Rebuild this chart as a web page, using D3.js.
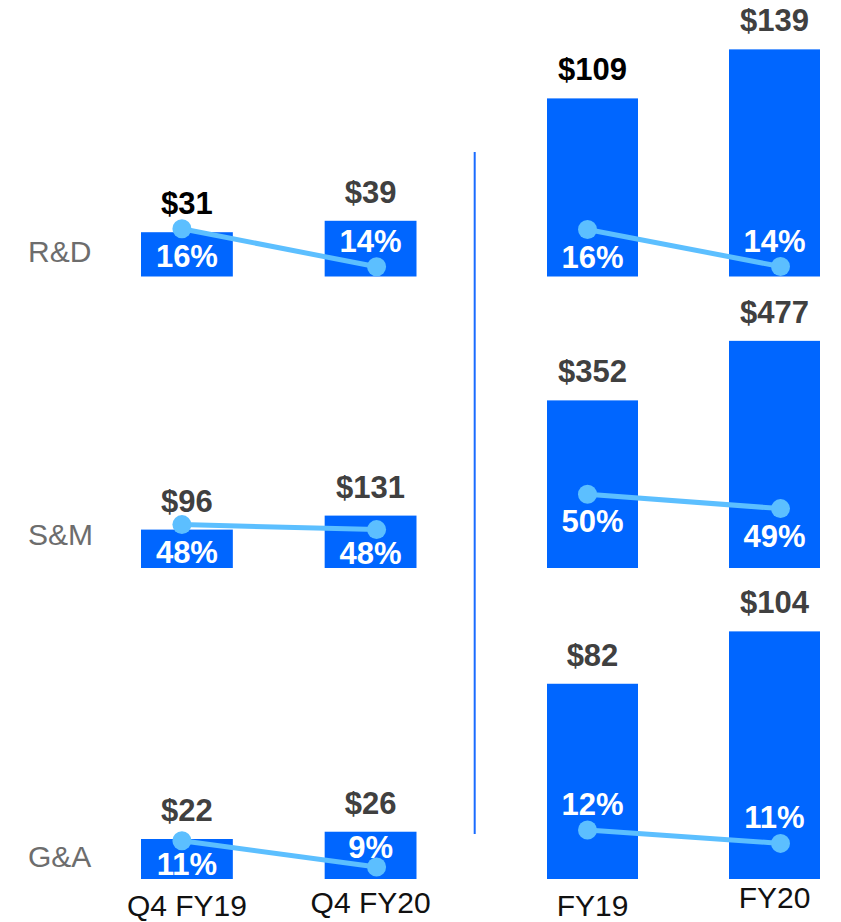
<!DOCTYPE html>
<html>
<head>
<meta charset="utf-8">
<script src="https://cdn.jsdelivr.net/npm/d3@7"></script>
<style>
  body { margin: 0; background: #fff; }
  svg text { font-family: "Liberation Sans", Arial, sans-serif; }
</style>
</head>
<body>
<div id="chart"></div>
<script>
// categories
const rowCats = ["R&D", "S&M", "G&A"];
const quarterCats = ["Q4 FY19", "Q4 FY20"];
const yearCats = ["FY19", "FY20"];

// spend ($M) per row, and spend as % of revenue
const quarterSpend = [[31, 39], [96, 131], [22, 26]];
const quarterPct = [[16, 14], [48.2, 47.8], [11, 9]];
const yearSpend = [[109, 139], [352, 477], [82, 104]];
const yearPct = [[16, 14], [50, 49], [12, 11]];

const width = 841, height = 922;
const blue = "#0066ff", lightBlue = "#5cbfff";

// each row has its own baseline, each panel its own scales
const rowBase = [276.5, 568, 879];

const panels = [
  {
    cats: quarterCats, spend: quarterSpend, pct: quarterPct,
    xRange: [141, 416.5], barRange: 60, barMax: [42, 150, 33],
    pctScale: [
      { d: [14, 16], r: [9.7, 47.7] },
      { d: [47.8, 48.2], r: [38.4, 43.4] },
      { d: [9, 11], r: [12, 38.3] }
    ],
    pctPlace: [["below", "above"], ["below", "below"], ["below", "above"]],
    labelBase: [916, 913],
    dark: [[true, false], [false, false], [false, false]]
  },
  {
    cats: yearCats, spend: yearSpend, pct: yearPct,
    xRange: [547, 820], barRange: 250, barMax: [153, 525, 105],
    pctScale: [
      { d: [14, 16], r: [10, 47] },
      { d: [49, 50], r: [59.4, 73.7] },
      { d: [11, 12], r: [35.6, 49] }
    ],
    pctPlace: [["below", "above"], ["below", "below"], ["above", "above"]],
    labelBase: [916, 908],
    dark: [[true, false], [false, false], [false, false]]
  }
];

const dotShift = [-5, 6];

const svg = d3.select("#chart").append("svg")
  .attr("width", width)
  .attr("height", height);

// row names on the left
svg.append("g").selectAll("text")
  .data(rowCats)
  .join("text")
    .attr("x", 28)
    .attr("y", (d, i) => rowBase[i] - [14.5, 23, 12.5][i])
    .attr("font-size", 30)
    .attr("fill", "#6d6d6d")
    .text(d => d);

// divider between quarter and year panels
svg.append("line")
  .attr("x1", 474.7).attr("x2", 474.7)
  .attr("y1", 152).attr("y2", 834)
  .attr("stroke", "#1a6cff")
  .attr("stroke-width", 2);

panels.forEach(p => {
  const x = d3.scaleBand()
    .domain(p.cats)
    .range(p.xRange)
    .paddingInner(0.5)
    .paddingOuter(0);

  const g = svg.append("g");

  rowCats.forEach((row, r) => {
    const base = rowBase[r];
    const y = d3.scaleLinear()
      .domain([0, p.barMax[r]])
      .range([base, base - p.barRange]);
    const yp = d3.scaleLinear()
      .domain(p.pctScale[r].d)
      .range(p.pctScale[r].r.map(v => base - v));

    const rows = p.cats.map((c, i) => ({
      cat: c, i: i, spend: p.spend[r][i], pct: p.pct[r][i],
      place: p.pctPlace[r][i], dark: p.dark[r][i]
    }));

    const rg = g.append("g");

    rg.selectAll("rect")
      .data(rows)
      .join("rect")
        .attr("x", d => x(d.cat))
        .attr("y", d => y(d.spend))
        .attr("width", x.bandwidth())
        .attr("height", d => y(0) - y(d.spend))
        .attr("fill", blue);

    rg.selectAll("text.value")
      .data(rows)
      .join("text")
        .attr("class", "value")
        .attr("x", d => x(d.cat) + x.bandwidth() / 2)
        .attr("y", d => y(d.spend) - 18)
        .attr("text-anchor", "middle")
        .attr("font-size", 31)
        .attr("font-weight", "bold")
        .attr("fill", d => d.dark ? "#000" : "#404040")
        .text(d => "$" + d.spend);

    const dotX = d => x(d.cat) + x.bandwidth() / 2 + dotShift[d.i];

    rg.append("path")
      .datum(rows)
      .attr("fill", "none")
      .attr("stroke", lightBlue)
      .attr("stroke-width", 5)
      .attr("d", d3.line().x(dotX).y(d => yp(d.pct)));

    rg.selectAll("circle")
      .data(rows)
      .join("circle")
        .attr("cx", dotX)
        .attr("cy", d => yp(d.pct))
        .attr("r", 9.5)
        .attr("fill", lightBlue);

    // white % labels sit inside the bar, under or over the dot
    rg.selectAll("text.pct")
      .data(rows)
      .join("text")
        .attr("class", "pct")
        .attr("x", d => x(d.cat) + x.bandwidth() / 2)
        .attr("y", d => d.place === "below"
          ? Math.min(yp(d.pct) + 38, base - 4)
          : Math.max(yp(d.pct) - 15, y(d.spend) + 26))
        .attr("text-anchor", "middle")
        .attr("font-size", 31)
        .attr("font-weight", "bold")
        .attr("fill", "#fff")
        .text(d => Math.round(d.pct) + "%");
  });

  // period labels under the bottom row
  g.selectAll("text.period")
    .data(p.cats)
    .join("text")
      .attr("class", "period")
      .attr("x", d => x(d) + x.bandwidth() / 2)
      .attr("y", (d, i) => p.labelBase[i])
      .attr("text-anchor", "middle")
      .attr("font-size", 30)
      .attr("fill", "#111")
      .text(d => d);
});
</script>
</body>
</html>
